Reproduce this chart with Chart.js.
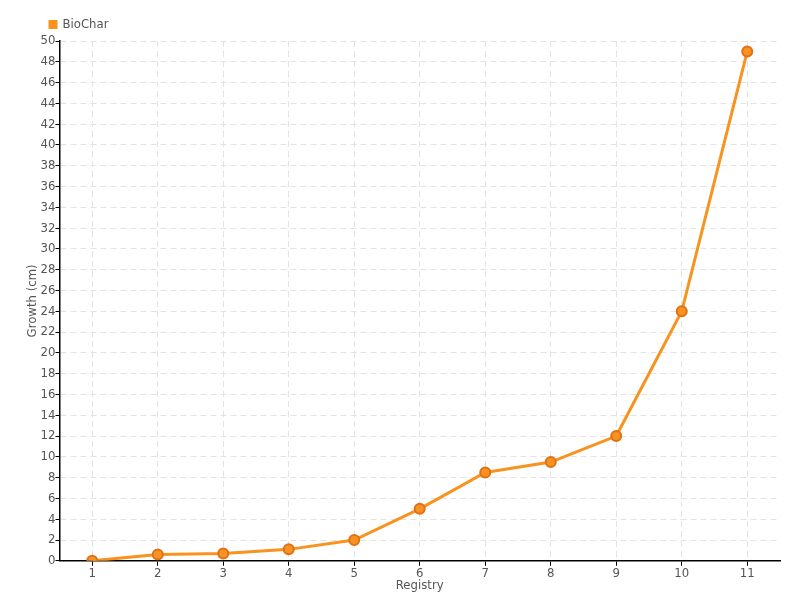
<!DOCTYPE html>
<html>
<head>
<meta charset="utf-8">
<script src="https://cdn.jsdelivr.net/npm/chart.js@4"></script>
<style>
  html, body { margin: 0; padding: 0; background: #fff; }
  #wrap { width: 800px; height: 600px; }
</style>
</head>
<body>
<div id="wrap"><canvas id="growthChart" width="800" height="600"></canvas></div>
<script>
const FONT = "'DejaVu Sans Condensed', 'Liberation Sans Narrow', sans-serif";

const registryLabels = ["1", "2", "3", "4", "5", "6", "7", "8", "9", "10", "11"];
const biocharGrowth = [0, 0.6, 0.7, 1.1, 2, 5, 8.5, 9.5, 12, 24, 49];

const ORANGE = "#f7931e";
const ORANGE_DARK = "#e0701a";

Chart.defaults.font.family = FONT;
Chart.defaults.color = "#555";

const ctx = document.getElementById("growthChart");

// nudge the legend to the right so it sits over the y axis like the original
const legendShift = {
  id: "legendShift",
  afterLayout(chart) {
    if (chart.legend) chart.legend.left += 14;
  },
};

new Chart(ctx, {
  type: "line",
  data: {
    labels: registryLabels,
    datasets: [
      {
        label: "BioChar",
        data: biocharGrowth,
        borderColor: ORANGE,
        backgroundColor: ORANGE,
        borderWidth: 3,
        pointRadius: 5,
        pointHoverRadius: 6,
        pointBackgroundColor: ORANGE,
        pointBorderColor: ORANGE_DARK,
        pointBorderWidth: 2,
        tension: 0,
      },
    ],
  },
  options: {
    responsive: false,
    animation: false,
    layout: { padding: { left: 25, right: 20, top: 7, bottom: 7 } },
    plugins: {
      legend: {
        position: "top",
        align: "start",
        labels: {
          boxWidth: 6,
          boxHeight: 6,
          padding: 11,
          font: { size: 13 },
          color: "#555",
        },
      },
      tooltip: { enabled: false },
    },
    scales: {
      x: {
        offset: true,
        grid: {
          display: true,
          color: "#e3e3e3",
          offset: false,
          drawTicks: true,
          tickLength: 5,
          tickColor: "#000",
        },
        border: { color: "#000", width: 1.5, dash: [6, 4] },
        ticks: { font: { size: 13 }, color: "#555", padding: 0 },
        title: {
          display: true,
          text: "Registry",
          font: { size: 13 },
          color: "#555",
          padding: { top: -4, bottom: 0 },
        },
      },
      y: {
        min: 0,
        max: 50,
        ticks: { stepSize: 2, font: { size: 13 }, color: "#555", padding: 0 },
        grid: {
          color: "#e3e3e3",
          tickLength: 4,
          tickColor: "#000",
        },
        border: { color: "#000", width: 1.5, dash: [6, 4] },
        title: {
          display: true,
          text: "Growth (cm)",
          font: { size: 13 },
          color: "#555",
          padding: { top: 0, bottom: 0 },
        },
      },
    },
  },
  plugins: [legendShift],
});
</script>
</body>
</html>
